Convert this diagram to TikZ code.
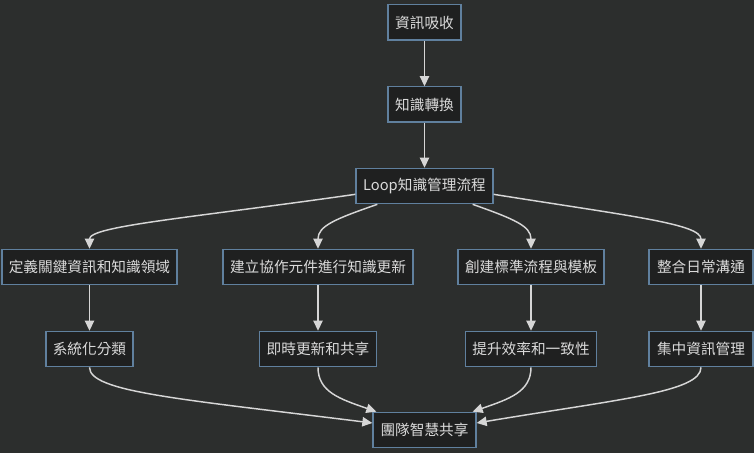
\documentclass[tikz,border=0pt]{standalone}
\usepackage{fontspec}
\newfontfamily\cjk{Noto Sans CJK TC}
\usetikzlibrary{arrows.meta,calc}
\definecolor{bgc}{RGB}{44,46,45}
\definecolor{nodefill}{RGB}{31,32,32}
\definecolor{nodeborder}{RGB}{96,128,158}
\definecolor{txt}{RGB}{218,218,218}
\definecolor{edgec}{RGB}{214,214,214}
\tikzset{
  box/.style={draw=nodeborder, fill=nodefill, line width=1pt, text=txt,
    font=\cjk\fontsize{11}{13}\selectfont, inner sep=0pt, align=center,
    minimum height=26.5pt},
  bw/.style={minimum width=#1*0.75pt},
  link/.style={draw=edgec, line width=1.1pt, -{Triangle[length=7.5pt,width=7pt]}}
}
\begin{document}
\begin{tikzpicture}[x=0.75pt,y=-0.75pt]
\fill[bgc] (0,0) rectangle (754,453);
\useasboundingbox (0,0) rectangle (754,453);

\node[box,bw=73] (a) at (424.5,22.5) {資訊吸收};
\node[box,bw=73] (b) at (424.5,104.5) {知識轉換};
\node[box,bw=137] (c) at (424.5,186) {Loop知識管理流程};

\node[box,bw=175] (d1) at (89.5,267) {定義關鍵資訊和知識領域};
\node[box,bw=190] (d2) at (318,267) {建立協作元件進行知識更新};
\node[box,bw=146] (d3) at (531,267) {創建標準流程與模板};
\node[box,bw=104] (d4) at (701,267) {整合日常溝通};

\node[box,bw=87] (e1) at (89.5,349) {系統化分類};
\node[box,bw=117] (e2) at (318,349) {即時更新和共享};
\node[box,bw=131] (e3) at (531,349) {提升效率和一致性};
\node[box,bw=104] (e4) at (701,349) {集中資訊管理};

\node[box,bw=103] (f) at (424.5,430) {團隊智慧共享};

\draw[link] (a) -- (b);
\draw[link] (b) -- (c);

\draw[link] ($(c.south west)+(0,-10)$) .. controls (190,218) and (89.5,226) .. (d1.north);
\draw[link] ($(c.south west)+(22,0)$) .. controls (335,219) and (318,226) .. (d2.north);
\draw[link] ($(c.south east)+(-21,0)$) .. controls (514,219) and (531,226) .. (d3.north);
\draw[link] ($(c.south east)+(0,-10)$) .. controls (630,216) and (701,224) .. (d4.north);

\draw[link] (d1) -- (e1);
\draw[link] (d2) -- (e2);
\draw[link] (d3) -- (e3);
\draw[link] (d4) -- (e4);

\draw[link] (e1.south) .. controls (89.5,392) and (180,399) .. ($(f.west)+(0,-7)$);
\draw[link] (e2.south) .. controls (318,392) and (340,399) .. ($(f.north west)+(4,0)$);
\draw[link] (e3.south) .. controls (531,392) and (509,399) .. ($(f.north east)+(-4,0)$);
\draw[link] (e4.south) .. controls (701,392) and (620,399) .. ($(f.east)+(0,-7)$);
\end{tikzpicture}
\end{document}
